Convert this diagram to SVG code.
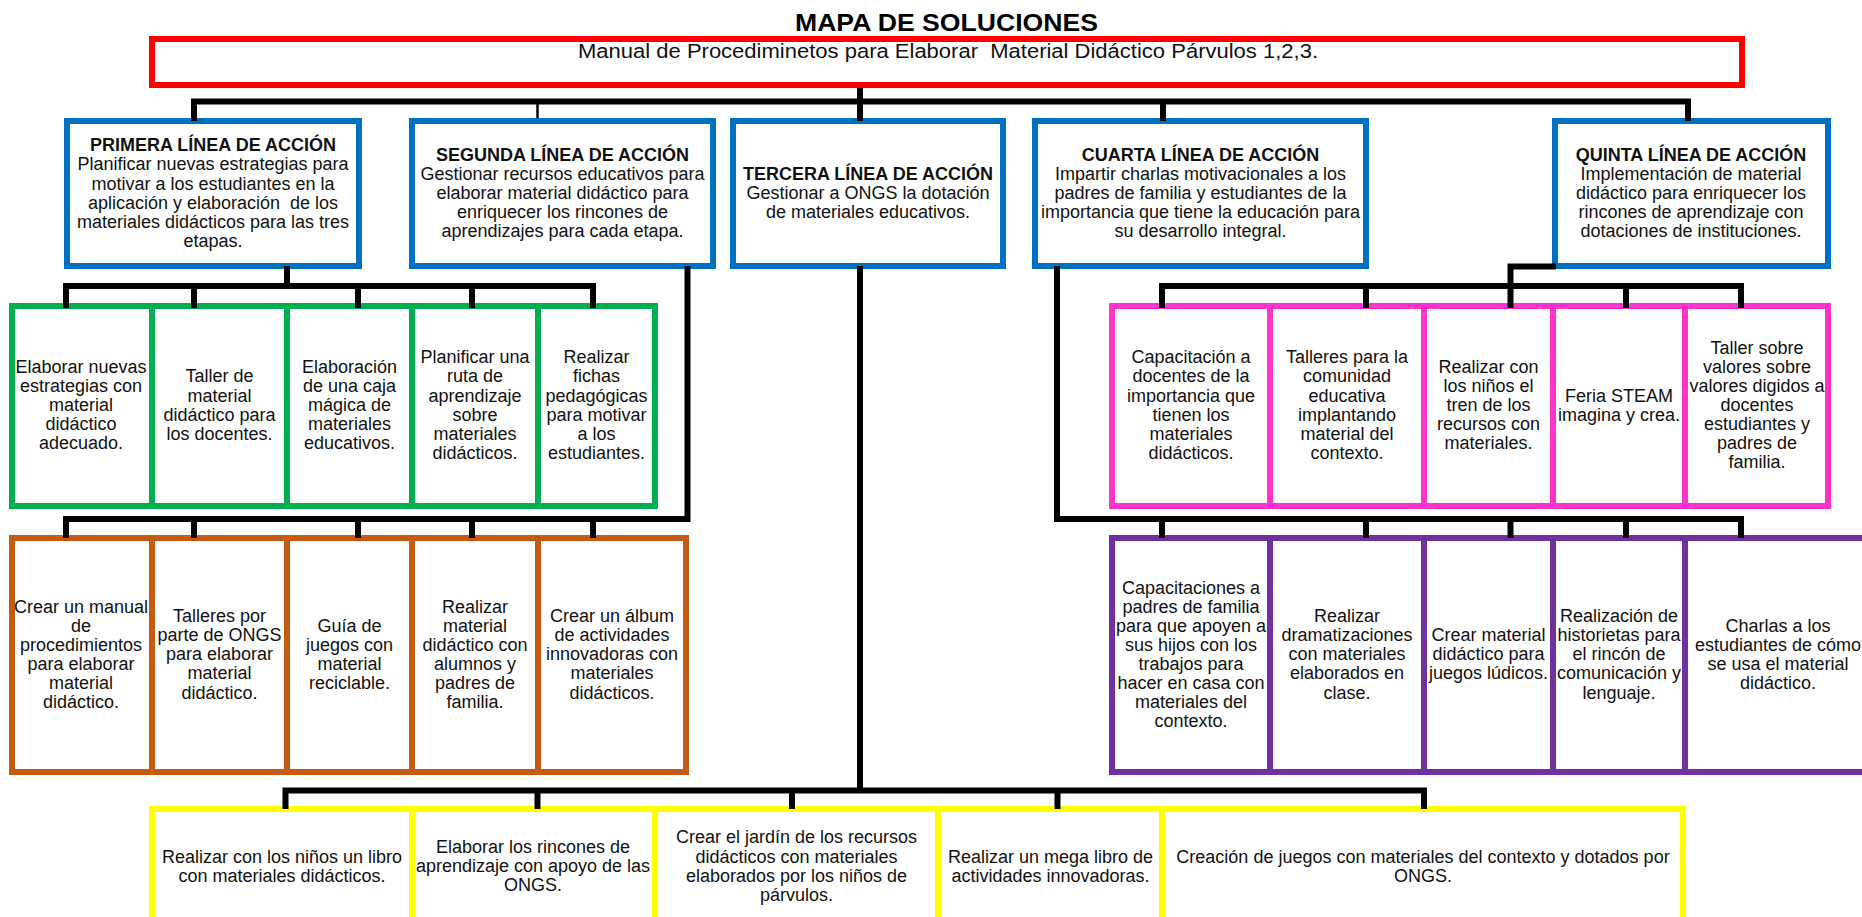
<svg xmlns="http://www.w3.org/2000/svg" width="1862" height="917" viewBox="0 0 1862 917">
<style>
.t{font-family:"Liberation Sans",Arial,sans-serif;font-size:18px;fill:#111;text-anchor:middle}
.h{font-weight:bold}
.box{fill:#fff;stroke-width:6}
.red{stroke:#FF0000}
.blue{stroke:#0070C0}
.green{stroke:#00B050}
.orange{stroke:#C55A11}
.pink{stroke:#FF33CC}
.purple{stroke:#7030A0}
.yellow{stroke:#FFFF00}
.c{fill:none;stroke:#000;stroke-width:6;stroke-linejoin:miter}
</style>
<rect width="1862" height="917" fill="#fff"/>
<text id="title" x="795" y="31" font-family="Liberation Sans, Arial, sans-serif" font-size="23.5" font-weight="bold" fill="#000" textLength="303" lengthAdjust="spacingAndGlyphs">MAPA DE SOLUCIONES</text>

<g id="root">
<rect class="box red" x="152" y="39" width="1590" height="46"/>
<text x="578" y="58.3" font-family="Liberation Sans, Arial, sans-serif" font-size="20" fill="#111" xml:space="preserve" textLength="740" lengthAdjust="spacingAndGlyphs">Manual de Procediminetos para Elaborar  Material Didáctico Párvulos 1,2,3.</text>
</g>

<g id="linea1">
<rect class="box blue" x="67" y="121" width="292" height="145"/>
<text class="t"><tspan class="h" x="213" y="151.3">PRIMERA LÍNEA DE ACCIÓN</tspan><tspan x="213" y="170.4">Planificar nuevas estrategias para</tspan><tspan x="213" y="189.5">motivar a los estudiantes en la</tspan><tspan x="213" y="208.6" xml:space="preserve">aplicación y elaboración  de los</tspan><tspan x="213" y="227.7">materiales didácticos para las tres</tspan><tspan x="213" y="246.8">etapas.</tspan></text>
</g>
<g id="linea2">
<rect class="box blue" x="412" y="121" width="301" height="145"/>
<text class="t"><tspan class="h" x="562.5" y="160.8">SEGUNDA LÍNEA DE ACCIÓN</tspan><tspan x="562.5" y="179.9">Gestionar recursos educativos para</tspan><tspan x="562.5" y="199">elaborar material didáctico para</tspan><tspan x="562.5" y="218.1">enriquecer los rincones de</tspan><tspan x="562.5" y="237.2">aprendizajes para cada etapa.</tspan></text>
</g>
<g id="linea3">
<rect class="box blue" x="733" y="121" width="270" height="145"/>
<text class="t"><tspan class="h" x="868" y="179.9">TERCERA LÍNEA DE ACCIÓN</tspan><tspan x="868" y="199">Gestionar a ONGS la dotación</tspan><tspan x="868" y="218.1">de materiales educativos.</tspan></text>
</g>
<g id="linea4">
<rect class="box blue" x="1035" y="121" width="331" height="145"/>
<text class="t"><tspan class="h" x="1200.5" y="160.8">CUARTA LÍNEA DE ACCIÓN</tspan><tspan x="1200.5" y="179.9">Impartir charlas motivacionales a los</tspan><tspan x="1200.5" y="199">padres de familia y estudiantes de la</tspan><tspan x="1200.5" y="218.1">importancia que tiene la educación para</tspan><tspan x="1200.5" y="237.2">su desarrollo integral.</tspan></text>
</g>
<g id="linea5">
<rect class="box blue" x="1555" y="121" width="273" height="145"/>
<text class="t"><tspan class="h" x="1691" y="160.8">QUINTA LÍNEA DE ACCIÓN</tspan><tspan x="1691" y="179.9">Implementación de material</tspan><tspan x="1691" y="199">didáctico para enriquecer los</tspan><tspan x="1691" y="218.1">rincones de aprendizaje con</tspan><tspan x="1691" y="237.2">dotaciones de instituciones.</tspan></text>
</g>

<!-- green row -->
<g id="g1">
<rect class="box green" x="12" y="306" width="140" height="200"/>
<text class="t"><tspan x="81" y="372.8">Elaborar nuevas</tspan><tspan x="81" y="391.9">estrategias con</tspan><tspan x="81" y="411">material</tspan><tspan x="81" y="430.1">didáctico</tspan><tspan x="81" y="449.2">adecuado.</tspan></text>
</g>
<g id="g2">
<rect class="box green" x="152" y="306" width="135" height="200"/>
<text class="t"><tspan x="219.5" y="382.4">Taller de</tspan><tspan x="219.5" y="401.5">material</tspan><tspan x="219.5" y="420.6">didáctico para</tspan><tspan x="219.5" y="439.7">los docentes.</tspan></text>
</g>
<g id="g3">
<rect class="box green" x="287" y="306" width="125" height="200"/>
<text class="t"><tspan x="349.5" y="372.8">Elaboración</tspan><tspan x="349.5" y="391.9">de una caja</tspan><tspan x="349.5" y="411">mágica de</tspan><tspan x="349.5" y="430.1">materiales</tspan><tspan x="349.5" y="449.2">educativos.</tspan></text>
</g>
<g id="g4">
<rect class="box green" x="412" y="306" width="126" height="200"/>
<text class="t"><tspan x="475" y="363.3">Planificar una</tspan><tspan x="475" y="382.4">ruta de</tspan><tspan x="475" y="401.5">aprendizaje</tspan><tspan x="475" y="420.6">sobre</tspan><tspan x="475" y="439.7">materiales</tspan><tspan x="475" y="458.8">didácticos.</tspan></text>
</g>
<g id="g5">
<rect class="box green" x="538" y="306" width="117" height="200"/>
<text class="t"><tspan x="596.5" y="363.3">Realizar</tspan><tspan x="596.5" y="382.4">fichas</tspan><tspan x="596.5" y="401.5">pedagógicas</tspan><tspan x="596.5" y="420.6">para motivar</tspan><tspan x="596.5" y="439.7">a los</tspan><tspan x="596.5" y="458.8">estudiantes.</tspan></text>
</g>

<!-- orange row -->
<g id="o1">
<rect class="box orange" x="12" y="538" width="140" height="234"/>
<text class="t"><tspan x="81" y="612.6">Crear un manual</tspan><tspan x="81" y="631.7">de</tspan><tspan x="81" y="650.8">procedimientos</tspan><tspan x="81" y="669.9">para elaborar</tspan><tspan x="81" y="689">material</tspan><tspan x="81" y="708.1">didáctico.</tspan></text>
</g>
<g id="o2">
<rect class="box orange" x="152" y="538" width="135" height="234"/>
<text class="t"><tspan x="219.5" y="622.1">Talleres por</tspan><tspan x="219.5" y="641.2">parte de ONGS</tspan><tspan x="219.5" y="660.3">para elaborar</tspan><tspan x="219.5" y="679.4">material</tspan><tspan x="219.5" y="698.5">didáctico.</tspan></text>
</g>
<g id="o3">
<rect class="box orange" x="287" y="538" width="125" height="234"/>
<text class="t"><tspan x="349.5" y="631.7">Guía de</tspan><tspan x="349.5" y="650.8">juegos con</tspan><tspan x="349.5" y="669.9">material</tspan><tspan x="349.5" y="689">reciclable.</tspan></text>
</g>
<g id="o4">
<rect class="box orange" x="412" y="538" width="126" height="234"/>
<text class="t"><tspan x="475" y="612.6">Realizar</tspan><tspan x="475" y="631.7">material</tspan><tspan x="475" y="650.8">didáctico con</tspan><tspan x="475" y="669.9">alumnos y</tspan><tspan x="475" y="689">padres de</tspan><tspan x="475" y="708.1">familia.</tspan></text>
</g>
<g id="o5">
<rect class="box orange" x="538" y="538" width="148" height="234"/>
<text class="t"><tspan x="612" y="622.1">Crear un álbum</tspan><tspan x="612" y="641.2">de actividades</tspan><tspan x="612" y="660.3">innovadoras con</tspan><tspan x="612" y="679.4">materiales</tspan><tspan x="612" y="698.5">didácticos.</tspan></text>
</g>

<!-- pink row -->
<g id="p1">
<rect class="box pink" x="1112" y="306" width="158" height="200"/>
<text class="t"><tspan x="1191" y="363.3">Capacitación a</tspan><tspan x="1191" y="382.4">docentes de la</tspan><tspan x="1191" y="401.5">importancia que</tspan><tspan x="1191" y="420.6">tienen los</tspan><tspan x="1191" y="439.7">materiales</tspan><tspan x="1191" y="458.8">didácticos.</tspan></text>
</g>
<g id="p2">
<rect class="box pink" x="1270" y="306" width="154" height="200"/>
<text class="t"><tspan x="1347" y="363.3">Talleres para la</tspan><tspan x="1347" y="382.4">comunidad</tspan><tspan x="1347" y="401.5">educativa</tspan><tspan x="1347" y="420.6">implantando</tspan><tspan x="1347" y="439.7">material del</tspan><tspan x="1347" y="458.8">contexto.</tspan></text>
</g>
<g id="p3">
<rect class="box pink" x="1424" y="306" width="129" height="200"/>
<text class="t"><tspan x="1488.5" y="372.8">Realizar con</tspan><tspan x="1488.5" y="391.9">los niños el</tspan><tspan x="1488.5" y="411">tren de los</tspan><tspan x="1488.5" y="430.1">recursos con</tspan><tspan x="1488.5" y="449.2">materiales.</tspan></text>
</g>
<g id="p4">
<rect class="box pink" x="1553" y="306" width="132" height="200"/>
<text class="t"><tspan x="1619" y="401.5">Feria STEAM</tspan><tspan x="1619" y="420.6">imagina y crea.</tspan></text>
</g>
<g id="p5">
<rect class="box pink" x="1685" y="306" width="143" height="200"/>
<text class="t"><tspan x="1757" y="353.7">Taller sobre</tspan><tspan x="1757" y="372.8">valores sobre</tspan><tspan x="1757" y="391.9">valores digidos a</tspan><tspan x="1757" y="411">docentes</tspan><tspan x="1757" y="430.1">estudiantes y</tspan><tspan x="1757" y="449.2">padres de</tspan><tspan x="1757" y="468.3">familia.</tspan></text>
</g>

<!-- purple row -->
<g id="u1">
<rect class="box purple" x="1112" y="538" width="158" height="234"/>
<text class="t"><tspan x="1191" y="593.5">Capacitaciones a</tspan><tspan x="1191" y="612.6">padres de familia</tspan><tspan x="1191" y="631.7">para que apoyen a</tspan><tspan x="1191" y="650.8">sus hijos con los</tspan><tspan x="1191" y="669.9">trabajos para</tspan><tspan x="1191" y="689">hacer en casa con</tspan><tspan x="1191" y="708.1">materiales del</tspan><tspan x="1191" y="727.2">contexto.</tspan></text>
</g>
<g id="u2">
<rect class="box purple" x="1270" y="538" width="154" height="234"/>
<text class="t"><tspan x="1347" y="622.1">Realizar</tspan><tspan x="1347" y="641.2">dramatizaciones</tspan><tspan x="1347" y="660.3">con materiales</tspan><tspan x="1347" y="679.4">elaborados en</tspan><tspan x="1347" y="698.5">clase.</tspan></text>
</g>
<g id="u3">
<rect class="box purple" x="1424" y="538" width="129" height="234"/>
<text class="t"><tspan x="1488.5" y="641.2">Crear material</tspan><tspan x="1488.5" y="660.3">didáctico para</tspan><tspan x="1488.5" y="679.4">juegos lúdicos.</tspan></text>
</g>
<g id="u4">
<rect class="box purple" x="1553" y="538" width="132" height="234"/>
<text class="t"><tspan x="1619" y="622.1">Realización de</tspan><tspan x="1619" y="641.2">historietas para</tspan><tspan x="1619" y="660.3">el rincón de</tspan><tspan x="1619" y="679.4">comunicación y</tspan><tspan x="1619" y="698.5">lenguaje.</tspan></text>
</g>
<g id="u5">
<rect class="box purple" x="1685" y="538" width="186" height="234"/>
<text class="t"><tspan x="1778" y="631.7">Charlas a los</tspan><tspan x="1778" y="650.8">estudiantes de cómo</tspan><tspan x="1778" y="669.9">se usa el material</tspan><tspan x="1778" y="689">didáctico.</tspan></text>
</g>

<!-- yellow row -->
<g id="y1">
<rect class="box yellow" x="152" y="809" width="260" height="118"/>
<text class="t"><tspan x="282" y="862.5">Realizar con los niños un libro</tspan><tspan x="282" y="881.6">con materiales didácticos.</tspan></text>
</g>
<g id="y2">
<rect class="box yellow" x="412" y="809" width="243" height="118"/>
<text class="t"><tspan x="533" y="852.9">Elaborar los rincones de</tspan><tspan x="533" y="872">aprendizaje con apoyo de las</tspan><tspan x="533" y="891.1">ONGS.</tspan></text>
</g>
<g id="y3">
<rect class="box yellow" x="655" y="809" width="283" height="118"/>
<text class="t"><tspan x="796.5" y="843.4">Crear el jardín de los recursos</tspan><tspan x="796.5" y="862.5">didácticos con materiales</tspan><tspan x="796.5" y="881.6">elaborados por los niños de</tspan><tspan x="796.5" y="900.7">párvulos.</tspan></text>
</g>
<g id="y4">
<rect class="box yellow" x="938" y="809" width="224" height="118"/>
<text class="t"><tspan x="1050.5" y="862.5">Realizar un mega libro de</tspan><tspan x="1050.5" y="881.6">actividades innovadoras.</tspan></text>
</g>
<g id="y5">
<rect class="box yellow" x="1162" y="809" width="521" height="118"/>
<text class="t"><tspan x="1423" y="862.5">Creación de juegos con materiales del contexto y dotados por</tspan><tspan x="1423" y="881.6">ONGS.</tspan></text>
</g>

<g id="connectors">
<path class="c" d="M860,88 V121"/>
<path class="c" d="M194,121 V101.5 H1688 V121"/>
<path class="c" d="M1163,101.5 V121"/>
<path d="M537.5,101.5 V118" fill="none" stroke="#000" stroke-width="2.5"/>
<path class="c" d="M287,266 V286"/>
<path class="c" d="M66,308 V286 H593 V308"/>
<path class="c" d="M194,286 V308 M358,286 V308 M472,286 V308"/>
<path class="c" d="M687.5,266 V519 H66 V538"/>
<path class="c" d="M194,519 V538 M358,519 V538 M472,519 V538 M593,519 V538"/>
<path class="c" d="M860,266 V790.5"/>
<path class="c" d="M285.5,809 V790.5 H1424 V809"/>
<path class="c" d="M537.5,790.5 V809 M792,790.5 V809 M1057.5,790.5 V809"/>
<path class="c" d="M1057,266 V519 H1741 V538"/>
<path class="c" d="M1162,519 V538 M1366,519 V538 M1510.5,519 V538 M1626,519 V538"/>
<path class="c" d="M1556,266.5 H1510.5 V308"/>
<path class="c" d="M1162,308 V286 H1741 V308"/>
<path class="c" d="M1366,286 V308 M1626,286 V308"/>
</g>
</svg>
